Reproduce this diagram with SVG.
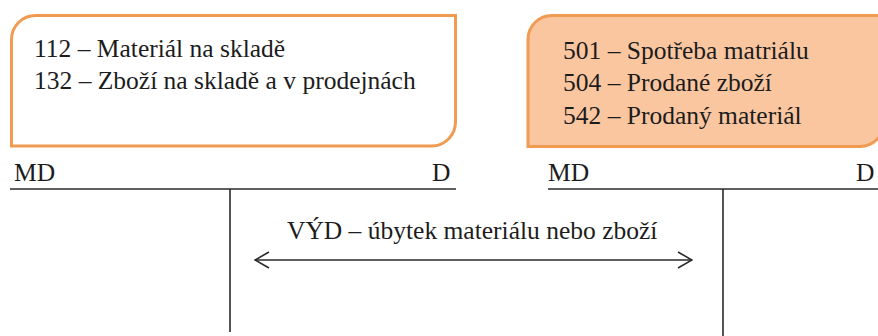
<svg xmlns="http://www.w3.org/2000/svg" width="878" height="336" viewBox="0 0 878 336">
  <style>
    .lbl { font-family: "Liberation Serif", "Times New Roman", serif; font-size: 25.5px; fill: #1c1c1c; }
    .box { stroke: #F09A52; stroke-width: 3; }
    .tline { stroke: #2a2a2a; stroke-width: 1.6; fill: none; }
    .arrow { stroke: #2a2a2a; stroke-width: 1.6; fill: none; }
  </style>
  <defs>
    <marker id="chev" viewBox="0 0 16 18" refX="15" refY="9" markerWidth="16" markerHeight="18" markerUnits="userSpaceOnUse" orient="auto-start-reverse">
      <path d="M1 1 L15 9 L1 17" fill="none" stroke="#2a2a2a" stroke-width="1.6"/>
    </marker>
  </defs>
  <rect width="878" height="336" fill="#ffffff"/>

  <!-- balance-sheet accounts (stock) -->
  <g id="acc-stock">
    <path class="box" fill="#ffffff" d="M35.5 15.5 H455.5 V122 A24 24 0 0 1 431.5 146 H11.5 V39.5 A24 24 0 0 1 35.5 15.5 Z"/>
    <text class="lbl" x="34" y="57">112 – Materiál na skladě</text>
    <text class="lbl" x="34" y="89">132 – Zboží na skladě a v prodejnách</text>
  </g>

  <!-- expense accounts -->
  <g id="acc-expense">
    <path class="box" fill="#FAC6A0" d="M552 15.5 H884 V122 A24 24 0 0 1 860 146.5 H528 V39.5 A24 24 0 0 1 552 15.5 Z"/>
    <text class="lbl" x="563" y="59">501 – Spotřeba matriálu</text>
    <text class="lbl" x="563" y="91">504 – Prodané zboží</text>
    <text class="lbl" x="563" y="124">542 – Prodaný materiál</text>
  </g>

  <!-- T-account, left -->
  <g id="t-stock">
    <text class="lbl" x="14" y="181">MD</text>
    <text class="lbl" x="432" y="181">D</text>
    <line class="tline" x1="10" y1="189" x2="456" y2="189"/>
    <line class="tline" x1="230" y1="189" x2="230" y2="332"/>
  </g>

  <!-- T-account, right -->
  <g id="t-expense">
    <text class="lbl" x="548" y="181">MD</text>
    <text class="lbl" x="856" y="181">D</text>
    <line class="tline" x1="548" y1="189" x2="878" y2="189"/>
    <line class="tline" x1="723" y1="189" x2="723" y2="336"/>
  </g>

  <!-- posting between the two accounts -->
  <g id="connectors">
    <line class="arrow" x1="255" y1="260" x2="692" y2="260" marker-start="url(#chev)" marker-end="url(#chev)"/>
    <text class="lbl" x="287" y="239">VÝD – úbytek materiálu nebo zboží</text>
  </g>
</svg>
